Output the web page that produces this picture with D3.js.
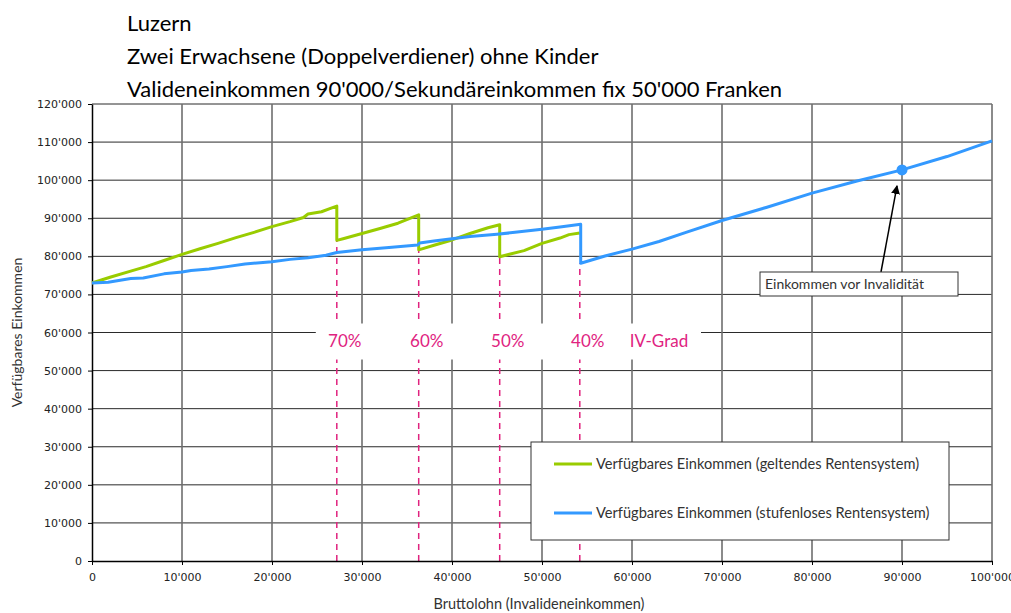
<!DOCTYPE html>
<html>
<head>
<meta charset="utf-8">
<script src="https://cdn.jsdelivr.net/npm/d3@7"></script>
<style>
  body { margin: 0; background: #fff; }
  svg { display: block; }
  .axis text { font-family: 'DejaVu Sans', Verdana, sans-serif; font-size: 11px; fill: #222; }
  .axis path, .axis line { stroke: #000; }
</style>
</head>
<body>
<svg class="chart" width="1011" height="613"></svg>
<script>
// chart values
const titleLines = [
  'Luzern',
  'Zwei Erwachsene (Doppelverdiener) ohne Kinder',
  "Valideneinkommen 90'000/Sekundäreinkommen fix 50'000 Franken"
]
const xTicks = d3.range(0, 100001, 10000)
const yTicks = d3.range(0, 120001, 10000)

// geltendes Rentensystem (green) [Bruttolohn, verfügbares Einkommen]
const geltend = [
  [0, 73000], [2000, 74500], [4300, 76100], [6000, 77300], [8000, 78900], [10000, 80500],
  [12000, 82000], [14000, 83400], [16000, 84900], [18000, 86300], [20000, 87800],
  [22000, 89100], [23500, 90200], [24000, 91100], [25500, 91700], [26500, 92600], [27200, 93200],
  [27200, 84200], [28000, 84700], [30000, 86000], [32000, 87300], [34000, 88700], [36300, 90900],
  [36300, 81700], [38000, 82900], [40000, 84300], [42000, 86000], [44000, 87500], [45300, 88300],
  [45300, 79900], [48000, 81500], [50000, 83400], [52000, 84800], [53000, 85700], [54200, 86100]
]

// stufenloses Rentensystem (blue)
const stufenlos = [
  [0, 73000], [1800, 73200], [4300, 74200], [5700, 74300], [8000, 75400], [10000, 75900],
  [11000, 76300], [13000, 76700], [15000, 77300], [17000, 78000], [19000, 78400], [20000, 78600],
  [22000, 79200], [24000, 79600], [26000, 80300], [27200, 81000], [30000, 81700], [33000, 82300],
  [36200, 83000], [36400, 83500], [38000, 84000], [40000, 84600], [42000, 85200], [45000, 85800],
  [47000, 86300], [50000, 87100], [52000, 87700], [54300, 88400],
  [54300, 78170], [57000, 80100], [60000, 81900], [63000, 83900], [66000, 86300], [70000, 89400],
  [75000, 92900], [80000, 96600], [85000, 99800], [90000, 102700], [95000, 106200], [100000, 110300]
]

// IV-Grad steps
const ivGrades = ['70%', '60%', '50%', '40%']
const ivSteps = [27200, 36300, 45300, 54200]
const ivStepLows = [84200, 81700, 79900, 78170]
const ivTitle = 'IV-Grad'
const ivTitleX = 63000

const validPoint = [90000, 102700]
const validLabel = 'Einkommen vor Invalidität'

const seriesNames = [
  'Verfügbares Einkommen (geltendes Rentensystem)',
  'Verfügbares Einkommen (stufenloses Rentensystem)'
]
const seriesColors = ['#99cc00', '#3399ff']
const pink = '#e0237f'

const svg = d3.select('.chart')
const plotLeft = 92
const plotRight = 992
const plotTop = 104
const plotBottom = 561

const locale = d3.formatLocale({ decimal: '.', thousands: "'", grouping: [3], currency: ['', ''] })
const fmt = locale.format(',')

const xScale = d3.scaleLinear().domain([0, 100000]).range([plotLeft, plotRight])
const yScale = d3.scaleLinear().domain([0, 120000]).range([plotBottom, plotTop])

// title
svg.append('g')
  .selectAll('text')
  .data(titleLines)
  .enter()
  .append('text')
  .attr('x', 127)
  .attr('y', (d, i) => 31 + i * 33)
  .style('font-family', 'Lato, sans-serif')
  .style('font-size', '22px')
  .attr('fill', '#000')
  .text(d => d)

// grid
svg.append('g')
  .selectAll('line')
  .data(yTicks.slice(1))
  .enter()
  .append('line')
  .attr('x1', plotLeft).attr('x2', plotRight)
  .attr('y1', d => yScale(d)).attr('y2', d => yScale(d))
  .attr('stroke', '#2a2a2a').attr('stroke-width', 1)

svg.append('g')
  .selectAll('line')
  .data(xTicks.slice(1))
  .enter()
  .append('line')
  .attr('x1', d => xScale(d)).attr('x2', d => xScale(d))
  .attr('y1', plotTop).attr('y2', plotBottom)
  .attr('stroke', '#6e6e6e').attr('stroke-width', 1.6)

// dashed IV lines
svg.append('g')
  .selectAll('line')
  .data(ivSteps)
  .enter()
  .append('line')
  .attr('x1', d => xScale(d)).attr('x2', d => xScale(d))
  .attr('y1', plotBottom).attr('y2', (d, i) => yScale(ivStepLows[i]))
  .attr('stroke', pink).attr('stroke-width', 1.5)
  .attr('stroke-dasharray', '6,5')

// label band
const bandY = yScale(60000)
svg.append('rect')
  .attr('x', xScale(ivSteps[0]) - 21)
  .attr('y', bandY - 9)
  .attr('width', xScale(ivTitleX) + 42 - (xScale(ivSteps[0]) - 21))
  .attr('height', 36)
  .attr('fill', '#fff')

const ivText = svg.append('g')
  .style('font-family', 'Lato, sans-serif')
  .style('font-size', '17px')
  .attr('fill', pink)
  .attr('text-anchor', 'middle')
ivText.selectAll('text')
  .data(ivGrades)
  .enter()
  .append('text')
  .attr('x', (d, i) => xScale(ivSteps[i]) + 8)
  .attr('y', bandY + 14)
  .text(d => d)
ivText.append('text')
  .attr('x', xScale(ivTitleX))
  .attr('y', bandY + 14)
  .text(ivTitle)

// axes
svg.append('g')
  .attr('class', 'axis')
  .attr('transform', `translate(${plotLeft},0)`)
  .call(d3.axisLeft(yScale).tickValues(yTicks).tickFormat(fmt).tickSize(4).tickPadding(6).tickSizeOuter(0))

svg.append('g')
  .attr('class', 'axis')
  .attr('transform', `translate(0,${plotBottom})`)
  .call(d3.axisBottom(xScale).tickValues(xTicks).tickFormat(fmt).tickSize(4).tickPadding(8).tickSizeOuter(0))

svg.selectAll('.axis .domain').attr('stroke-width', 1.5)

// axis titles
svg.append('text')
  .attr('transform', `translate(22,${(plotTop + plotBottom) / 2}) rotate(-90)`)
  .attr('text-anchor', 'middle')
  .style('font-family', 'Lato, sans-serif')
  .style('font-size', '14px')
  .attr('fill', '#333')
  .text('Verfügbares Einkommen')

svg.append('text')
  .attr('x', 539)
  .attr('y', 609)
  .attr('text-anchor', 'middle')
  .style('font-family', 'Lato, sans-serif')
  .style('font-size', '14.5px')
  .attr('fill', '#333')
  .text('Bruttolohn (Invalideneinkommen)')

// series
const line = d3.line().x(d => xScale(d[0])).y(d => yScale(d[1]))
;[geltend, stufenlos].forEach((s, i) => {
  svg.append('path')
    .datum(s)
    .attr('d', line)
    .attr('fill', 'none')
    .attr('stroke', seriesColors[i])
    .attr('stroke-width', 3)
    .attr('stroke-linejoin', 'round')
})

// legend
const legend = svg.append('g').attr('transform', 'translate(531,442)')
legend.append('rect')
  .attr('width', 418).attr('height', 98)
  .attr('fill', '#fff').attr('stroke', '#333').attr('stroke-width', 1)
const items = legend.selectAll('g')
  .data(seriesNames)
  .enter()
  .append('g')
  .attr('transform', (d, i) => `translate(0,${22 + i * 49})`)
items.append('line')
  .attr('x1', 23).attr('x2', 61)
  .attr('stroke', (d, i) => seriesColors[i]).attr('stroke-width', 3)
items.append('text')
  .attr('x', 65).attr('y', 5)
  .style('font-family', 'Lato, sans-serif')
  .style('font-size', '14.6px')
  .attr('fill', '#333')
  .text(d => d)

// annotation
const px = xScale(validPoint[0])
const py = yScale(validPoint[1])
svg.append('defs').append('marker')
  .attr('id', 'arrow')
  .attr('viewBox', '0 0 10 10')
  .attr('refX', 9).attr('refY', 5)
  .attr('markerWidth', 6).attr('markerHeight', 6)
  .attr('orient', 'auto')
  .append('path')
  .attr('d', 'M0,0L10,5L0,10z')
  .attr('fill', '#000')
svg.append('line')
  .attr('x1', px - 21).attr('y1', 272)
  .attr('x2', px - 5).attr('y2', py + 16)
  .attr('stroke', '#000').attr('stroke-width', 1.5)
  .attr('marker-end', 'url(#arrow)')
svg.append('rect')
  .attr('x', 760).attr('y', 272)
  .attr('width', 198).attr('height', 24)
  .attr('fill', '#fff').attr('stroke', '#333').attr('stroke-width', 1)
svg.append('text')
  .attr('x', 765).attr('y', 289)
  .style('font-family', 'Lato, sans-serif')
  .style('font-size', '14px')
  .attr('fill', '#333')
  .text(validLabel)

svg.append('circle')
  .attr('cx', px).attr('cy', py).attr('r', 5.5)
  .attr('fill', seriesColors[1])
</script>
</body>
</html>
